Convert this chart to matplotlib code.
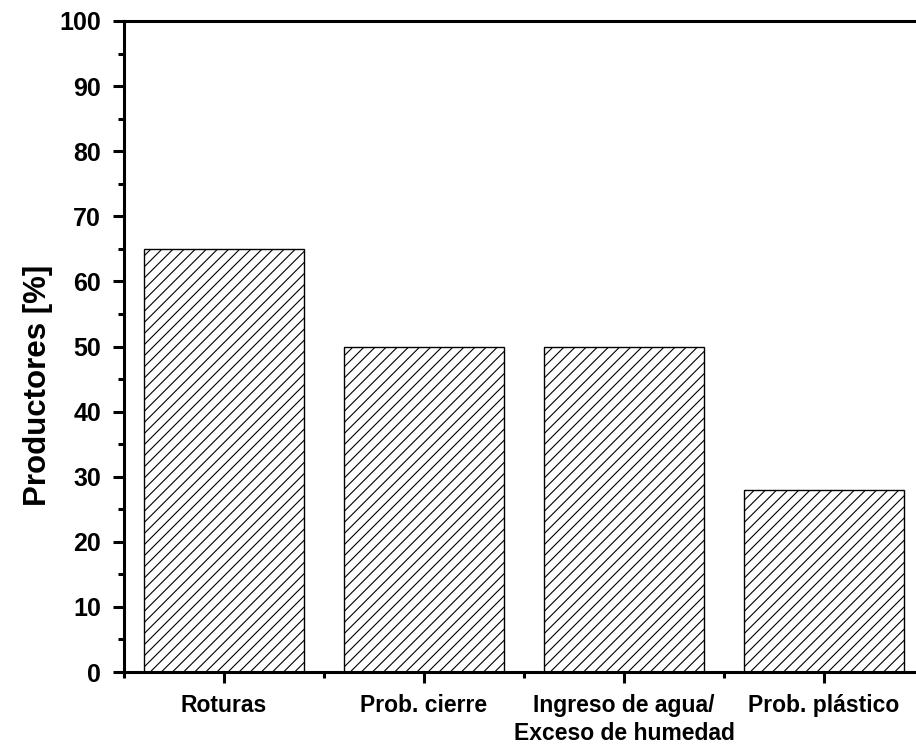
import numpy as np
import matplotlib
matplotlib.use('Agg')
import matplotlib.pyplot as plt
from matplotlib.ticker import MultipleLocator

# Data
categorias = ['Roturas', 'Prob. cierre', 'Ingreso de agua/\nExceso de humedad', 'Prob. plástico']
productores = [65, 50, 50, 28]

plt.rcParams['font.family'] = ['Liberation Sans', 'DejaVu Sans']
plt.rcParams['font.weight'] = 'bold'
plt.rcParams['hatch.linewidth'] = 0.8

fig = plt.figure(figsize=(9.16, 7.44), dpi=100)
ax = fig.add_axes([124 / 916, 72 / 744, 800 / 916, 651 / 744])

x = np.arange(1, len(categorias) + 1)
ax.bar(x, productores, width=0.8, color='white', edgecolor='black',
       linewidth=1.0, hatch='///')

ax.set_xlim(0.5, 4.5)
ax.set_ylim(0, 100)
ax.set_xticks(x)
ax.set_xticklabels(categorias, fontsize=16.5, fontweight='bold', linespacing=1.25)
ax.xaxis.set_minor_locator(MultipleLocator(1, offset=0.5))
ax.yaxis.set_major_locator(MultipleLocator(10))
ax.yaxis.set_minor_locator(MultipleLocator(5))
ax.tick_params(axis='y', which='major', labelsize=18, length=8, width=2.2, pad=8.5)
ax.tick_params(axis='y', which='minor', length=4, width=2.2)
ax.tick_params(axis='x', which='major', length=8, width=2.2, pad=8)
ax.tick_params(axis='x', which='minor', length=4.5, width=2.2)
for lbl in ax.get_yticklabels():
    lbl.set_fontweight('bold')

for s in ax.spines.values():
    s.set_linewidth(2.2)

ax.set_ylabel('Productores [%]', fontsize=22.5, fontweight='bold')
ax.yaxis.set_label_coords(-0.089, 0.441)

fig.savefig('out.png', dpi=100)
